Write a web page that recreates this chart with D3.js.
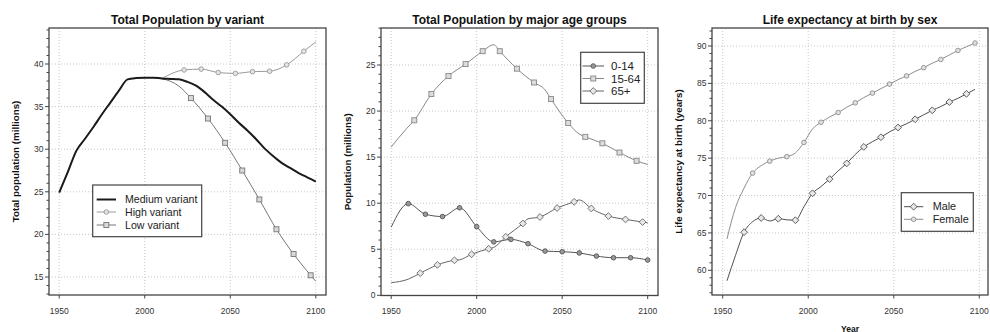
<!DOCTYPE html>
<html><head><meta charset="utf-8">
<script src="https://cdn.jsdelivr.net/npm/d3@7"></script>
<style>body{margin:0;background:#fff}svg{display:block;font-family:"Liberation Sans",Arial,sans-serif}</style>
</head><body><svg id="c" width="990" height="332"></svg>
<script>
// ---------- DATA ----------
const xTickYears = [1950, 2000, 2050, 2100];

// Panel 1: Total population by variant (millions)
const mediumYears = [1950,1955,1960,1965,1970,1975,1980,1985,1990,1995,2000,2005,2010,2015,2020,2025,2030,2035,2040,2045,2050,2055,2060,2065,2070,2075,2080,2085,2090,2095,2100];
const mediumVariant = [24.9,27.3,29.8,31.2,32.6,34.1,35.5,36.9,38.2,38.35,38.4,38.4,38.3,38.25,38.2,37.9,37.45,36.7,35.8,35.0,34.1,33.1,32.2,31.2,30.1,29.2,28.4,27.8,27.2,26.7,26.2];
const highYears = [2010,2023,2033,2043,2053,2063,2073,2083,2093,2100];
const highVariant = [38.3,39.3,39.4,39.0,38.9,39.1,39.15,39.9,41.5,42.6];
const highMarkerYears = [2023,2033,2043,2053,2063,2073,2083,2093];
const lowYears = [2010,2020,2027,2037,2047,2057,2067,2077,2087,2097,2100];
const lowVariant = [38.3,37.4,36.0,33.6,30.75,27.5,24.1,20.6,17.7,15.2,14.5];
const lowMarkerYears = [2027,2037,2047,2057,2067,2077,2087,2097];
const p1YTicks = [15,20,25,30,35,40];

// Panel 2: population by major age groups (millions)
const age0_14Years = [1950,1960,1970,1980,1990,2000,2010,2020,2030,2040,2050,2060,2070,2080,2090,2100];
const age0_14 = [7.4,9.95,8.8,8.55,9.5,7.45,5.8,6.07,5.6,4.8,4.73,4.6,4.26,4.08,4.08,3.83];
const age0_14MarkerYears = [1960,1970,1980,1990,2000,2010,2020,2030,2040,2050,2060,2070,2080,2090,2100];
const age15_64Years = [1950,1959,1963.5,1973.5,1983.5,1993.5,2003.5,2010,2013.5,2023.5,2033.5,2040,2043.5,2053.5,2060,2063.5,2073.5,2083.5,2093.5,2100];
const age15_64 = [16.1,18.1,19.0,21.85,23.8,25.1,26.5,27.2,26.5,24.6,23.1,22.3,21.3,18.7,17.5,17.2,16.5,15.5,14.6,14.2];
const age15_64MarkerYears = [1963.5,1973.5,1983.5,1993.5,2003.5,2013.5,2023.5,2033.5,2043.5,2053.5,2063.5,2073.5,2083.5,2093.5];
const age65Years = [1950,1960,1967,1977,1987,1990,1997,2007,2010,2017,2027,2030,2037,2047,2057,2060,2067,2077,2087,2097,2100];
const age65 = [1.37,1.75,2.4,3.3,3.8,3.85,4.45,5.05,5.2,6.35,7.8,8.3,8.5,9.47,10.15,10.35,9.43,8.6,8.24,7.95,7.87];
const age65MarkerYears = [1967,1977,1987,1997,2007,2017,2027,2037,2047,2057,2067,2077,2087,2097];
const p2YTicks = [0,5,10,15,20,25];

// Panel 3: life expectancy at birth by sex (years)
const lifeYears = [1952.5,1957.5,1962.5,1967.5,1972.5,1977.5,1982.5,1987.5,1992.5,1997.5,2002.5,2007.5,2012.5,2017.5,2022.5,2027.5,2032.5,2037.5,2042.5,2047.5,2052.5,2057.5,2062.5,2067.5,2072.5,2077.5,2082.5,2087.5,2092.5,2097.5];
const maleLE = [58.6,62.0,65.1,66.5,67.0,66.6,66.9,66.75,66.7,68.5,70.3,71.2,72.2,73.3,74.3,75.5,76.5,77.2,77.8,78.5,79.1,79.6,80.2,80.8,81.4,81.9,82.5,83.0,83.6,84.2];
const femaleLE = [64.2,68.4,71.0,73.0,74.0,74.6,75.0,75.2,75.7,77.1,78.9,79.8,80.5,81.1,81.8,82.4,83.1,83.7,84.3,84.9,85.5,86.0,86.6,87.1,87.7,88.2,88.8,89.4,89.9,90.4];
const maleMarkerYears = [1962.5,1972.5,1982.5,1992.5,2002.5,2012.5,2022.5,2032.5,2042.5,2052.5,2062.5,2072.5,2082.5,2092.5];
const femaleMarkerYears = [1967.5,1977.5,1987.5,1997.5,2007.5,2017.5,2027.5,2037.5,2047.5,2057.5,2067.5,2077.5,2087.5,2097.5];
const p3YTicks = [60,65,70,75,80,85,90];

// ---------- DRAW ----------
const svg = d3.select("#c");
const AXIS = "#444", TXT = "#222";

function marker(g, type, x, y, color, fill) {
  if (type === "circle") {
    g.append("circle").attr("cx", x).attr("cy", y).attr("r", 2.3)
      .attr("fill", fill).attr("stroke", color).attr("stroke-width", 0.9);
  } else if (type === "square") {
    g.append("rect").attr("x", x - 2.5).attr("y", y - 2.5).attr("width", 5).attr("height", 5)
      .attr("fill", fill).attr("stroke", color).attr("stroke-width", 0.9);
  } else if (type === "diamond") {
    const s = 3.4;
    g.append("path").attr("d", `M${x},${y-s}L${x+s},${y}L${x},${y+s}L${x-s},${y}Z`)
      .attr("fill", fill).attr("stroke", color).attr("stroke-width", 0.9);
  }
}

function panel(cfg) {
  const g = svg.append("g");
  const b = cfg.box;
  const x = d3.scaleLinear().domain([1950, 2100]).range(cfg.xr);
  const y = d3.scaleLinear().domain(cfg.yd).range(cfg.yr);

  // grid
  g.selectAll(".gx").data(xTickYears).join("line")
    .attr("x1", d => x(d)).attr("x2", d => x(d)).attr("y1", b.t).attr("y2", b.b)
    .attr("stroke", "#c8c8c8").attr("stroke-dasharray", "1,2").attr("stroke-width", 1);
  g.selectAll(".gy").data(cfg.yTicks).join("line")
    .attr("x1", b.l).attr("x2", b.r).attr("y1", d => y(d)).attr("y2", d => y(d))
    .attr("stroke", "#c8c8c8").attr("stroke-dasharray", "1,2").attr("stroke-width", 1);

  // series
  cfg.series.forEach(s => {
    const pts = s.xs.map((v, i) => [v, s.ys[i]]);
    const line = d3.line().x(d => x(d[0])).y(d => y(d[1])).curve(d3.curveMonotoneX);
    g.append("path").attr("d", line(pts)).attr("fill", "none")
      .attr("stroke", s.color).attr("stroke-width", s.width);
    if (s.marker) {
      s.markerYears.forEach(my => {
        const i = s.xs.indexOf(my);
        marker(g, s.marker, x(s.xs[i]), y(s.ys[i]), s.color, s.fill);
      });
    }
  });

  // box
  g.append("rect").attr("x", b.l).attr("y", b.t).attr("width", b.r - b.l).attr("height", b.b - b.t)
    .attr("fill", "none").attr("stroke", AXIS).attr("stroke-width", 1.3);

  // y axis ticks (major + minor)
  const ymin = Math.ceil(y.invert(b.b)), ymax = Math.floor(y.invert(b.t));
  const minors = d3.range(ymin, ymax + 1);
  g.selectAll(".ym").data(minors).join("line")
    .attr("x1", b.l).attr("x2", d => b.l - (cfg.yTicks.includes(d) ? 4 : 2.5))
    .attr("y1", d => y(d)).attr("y2", d => y(d)).attr("stroke", AXIS).attr("stroke-width", 1);
  g.selectAll(".yl").data(cfg.yTicks).join("text")
    .attr("x", b.l - 5.5).attr("y", d => y(d)).attr("dy", "0.35em").attr("text-anchor", "end")
    .attr("font-size", 8.5).attr("fill", "#333").text(d => d);

  // x axis ticks
  g.selectAll(".xt").data(xTickYears).join("line")
    .attr("x1", d => x(d)).attr("x2", d => x(d)).attr("y1", b.b).attr("y2", b.b + 3.5)
    .attr("stroke", AXIS).attr("stroke-width", 1);
  g.selectAll(".xl").data(xTickYears).join("text")
    .attr("x", d => x(d)).attr("y", 311).attr("dy", "0.35em").attr("text-anchor", "middle")
    .attr("font-size", 8.5).attr("fill", "#333").text(d => d);

  // title
  g.append("text").attr("x", (b.l + b.r) / 2).attr("y", 20).attr("dy", "0.35em")
    .attr("text-anchor", "middle").attr("font-size", 12).attr("font-weight", "bold")
    .attr("fill", "#111").text(cfg.title);
  // y label
  g.append("text").attr("transform", `translate(${b.l - 33},${(b.t + b.b) / 2}) rotate(-90)`)
    .attr("dy", "0.35em").attr("text-anchor", "middle").attr("font-size", 9.8)
    .attr("font-weight", "bold").attr("fill", "#111").text(cfg.ylabel);

  // legend
  const L = cfg.legend;
  g.append("rect").attr("x", L.x0).attr("y", L.y0).attr("width", L.x1 - L.x0).attr("height", L.y1 - L.y0)
    .attr("fill", "#fff").attr("stroke", AXIS).attr("stroke-width", 1.2);
  L.items.forEach((it, i) => {
    const yy = L.rows[i];
    g.append("line").attr("x1", L.lx0).attr("x2", L.lx1).attr("y1", yy).attr("y2", yy)
      .attr("stroke", it.color).attr("stroke-width", it.width);
    if (it.marker) marker(g, it.marker, (L.lx0 + L.lx1) / 2, yy, it.color, it.fill);
    g.append("text").attr("x", L.tx).attr("y", yy).attr("dy", "0.35em")
      .attr("font-size", L.fs).attr("fill", TXT).text(it.label);
  });
}

const medS = {xs: mediumYears, ys: mediumVariant, color: "#1a1a1a", width: 2, label: "Medium variant"};
const highS = {xs: highYears, ys: highVariant, color: "#9a9a9a", width: 1, marker: "circle", fill: "#e4e4e4", markerYears: highMarkerYears, label: "High variant"};
const lowS = {xs: lowYears, ys: lowVariant, color: "#777", width: 1, marker: "square", fill: "#d8d8d8", markerYears: lowMarkerYears, label: "Low variant"};

panel({
  box: {l: 49, r: 326, t: 28, b: 295},
  xr: [59.2, 315.8], yd: [15, 40], yr: [277, 64], yTicks: p1YTicks,
  title: "Total Population by variant", ylabel: "Total population (millions)",
  series: [lowS, highS, medS],
  legend: {x0: 92.7, x1: 201.7, y0: 185, y1: 236.7, lx0: 96.7, lx1: 116, tx: 125, fs: 10.6,
    rows: [199.5, 212, 225], items: [medS, highS, lowS]}
});

const s0 = {xs: age0_14Years, ys: age0_14, color: "#555", width: 1, marker: "circle", fill: "#999", markerYears: age0_14MarkerYears, label: "0-14"};
const s1 = {xs: age15_64Years, ys: age15_64, color: "#888", width: 1, marker: "square", fill: "#dcdcdc", markerYears: age15_64MarkerYears, label: "15-64"};
const s2 = {xs: age65Years, ys: age65, color: "#666", width: 1, marker: "diamond", fill: "#e8e8e8", markerYears: age65MarkerYears, label: "65+"};

panel({
  box: {l: 381, r: 658, t: 28, b: 295.5},
  xr: [391.2, 647.7], yd: [0, 25], yr: [295.3, 65], yTicks: p2YTicks,
  title: "Total Population by major age groups", ylabel: "Population (millions)",
  series: [s1, s0, s2],
  legend: {x0: 580.7, x1: 644.3, y0: 52.3, y1: 103.3, lx0: 582.5, lx1: 604, tx: 611, fs: 11.5,
    rows: [66, 78.5, 91], items: [s0, s1, s2]}
});

const mS = {xs: lifeYears, ys: maleLE, color: "#505050", width: 1, marker: "diamond", fill: "#e8e8e8", markerYears: maleMarkerYears, label: "Male"};
const fS = {xs: lifeYears, ys: femaleLE, color: "#8e8e8e", width: 1, marker: "circle", fill: "#e0e0e0", markerYears: femaleMarkerYears, label: "Female"};

panel({
  box: {l: 712, r: 988, t: 28, b: 295},
  xr: [722.7, 979.3], yd: [60, 90], yr: [270.3, 46], yTicks: p3YTicks,
  title: "Life expectancy at birth by sex", ylabel: "Life expectancy at birth (years)",
  series: [fS, mS],
  legend: {x0: 901.3, x1: 973.3, y0: 192.7, y1: 231.3, lx0: 904, lx1: 923.3, tx: 932.7, fs: 10.8,
    rows: [206.7, 219.3], items: [mS, fS]}
});

svg.append("text").attr("x", 850).attr("y", 331.5).attr("text-anchor", "middle")
  .attr("font-size", 8.5).attr("font-weight", "bold").attr("fill", "#111").text("Year");
</script></body></html>
